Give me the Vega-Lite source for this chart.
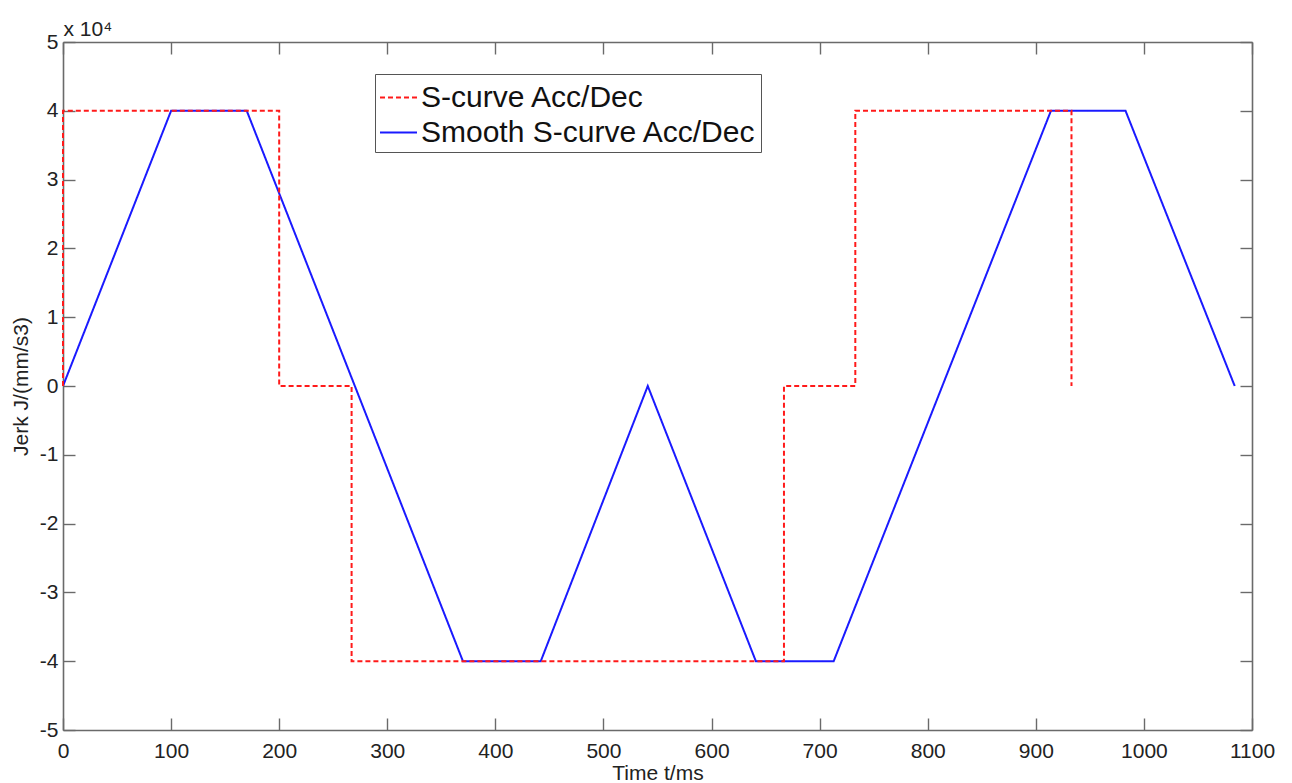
{
  "$schema": "https://vega.github.io/schema/vega-lite/v6.json",
  "width": 1189,
  "height": 688,
  "autosize": {"type": "none"},
  "padding": {"left": 63, "top": 42, "right": 40, "bottom": 53},
  "background": "white",
  "config": {
    "view": {"stroke": null},
    "axis": {
      "grid": false,
      "domainColor": "#6a6a6a",
      "domainWidth": 1.6,
      "tickColor": "#6a6a6a",
      "tickWidth": 1.4,
      "tickSize": -12,
      "labelFont": "Liberation Sans",
      "labelFontSize": 21,
      "labelColor": "#222222",
      "labelFlush": false,
      "labelOverlap": false,
      "titleFont": "Liberation Sans",
      "titleFontSize": 21,
      "titleFontWeight": "normal",
      "titleColor": "#222222"
    },
    "legend": {
      "orient": "none",
      "legendX": 312,
      "legendY": 32,
      "title": null,
      "padding": 4,
      "strokeColor": "#555555",
      "fillColor": "white",
      "symbolType": "stroke",
      "symbolSize": 1369,
      "symbolStrokeWidth": 2,
      "labelFont": "Liberation Sans",
      "labelFontSize": 30,
      "labelColor": "#111111",
      "labelOffset": 3,
      "rowPadding": 0,
      "labelLimit": 500
    }
  },
  "data": {
    "values": [
      {"series": "S-curve Acc/Dec", "i": 0, "t": 0, "jerk": 0},
      {"series": "S-curve Acc/Dec", "i": 1, "t": 0, "jerk": 40000},
      {"series": "S-curve Acc/Dec", "i": 2, "t": 200, "jerk": 40000},
      {"series": "S-curve Acc/Dec", "i": 3, "t": 200, "jerk": 0},
      {"series": "S-curve Acc/Dec", "i": 4, "t": 267, "jerk": 0},
      {"series": "S-curve Acc/Dec", "i": 5, "t": 267, "jerk": -40000},
      {"series": "S-curve Acc/Dec", "i": 6, "t": 667, "jerk": -40000},
      {"series": "S-curve Acc/Dec", "i": 7, "t": 667, "jerk": 0},
      {"series": "S-curve Acc/Dec", "i": 8, "t": 733, "jerk": 0},
      {"series": "S-curve Acc/Dec", "i": 9, "t": 733, "jerk": 40000},
      {"series": "S-curve Acc/Dec", "i": 10, "t": 933, "jerk": 40000},
      {"series": "S-curve Acc/Dec", "i": 11, "t": 933, "jerk": 0},
      {"series": "Smooth S-curve Acc/Dec", "i": 0, "t": 0, "jerk": 0},
      {"series": "Smooth S-curve Acc/Dec", "i": 1, "t": 100, "jerk": 40000},
      {"series": "Smooth S-curve Acc/Dec", "i": 2, "t": 170, "jerk": 40000},
      {"series": "Smooth S-curve Acc/Dec", "i": 3, "t": 370, "jerk": -40000},
      {"series": "Smooth S-curve Acc/Dec", "i": 4, "t": 442, "jerk": -40000},
      {"series": "Smooth S-curve Acc/Dec", "i": 5, "t": 541, "jerk": 0},
      {"series": "Smooth S-curve Acc/Dec", "i": 6, "t": 641, "jerk": -40000},
      {"series": "Smooth S-curve Acc/Dec", "i": 7, "t": 713, "jerk": -40000},
      {"series": "Smooth S-curve Acc/Dec", "i": 8, "t": 914, "jerk": 40000},
      {"series": "Smooth S-curve Acc/Dec", "i": 9, "t": 983, "jerk": 40000},
      {"series": "Smooth S-curve Acc/Dec", "i": 10, "t": 1084, "jerk": 0}
    ]
  },
  "resolve": {"axis": {"x": "independent", "y": "independent"}},
  "layer": [
    {
      "transform": [{"filter": "datum.series === 'Smooth S-curve Acc/Dec'"}],
      "mark": {"type": "line", "strokeWidth": 2},
      "encoding": {
        "x": {"field": "t", "type": "quantitative", "scale": {"domain": [0, 1100], "nice": false},
          "axis": {"orient": "bottom", "title": "Time t/ms", "values": [0,100,200,300,400,500,600,700,800,900,1000,1100], "labelExpr": "'' + datum.value", "labelPadding": 22, "titlePadding": 1}},
        "y": {"field": "jerk", "type": "quantitative", "scale": {"domain": [-50000, 50000], "nice": false, "zero": false},
          "axis": {"orient": "left", "title": "Jerk J/(mm/s3)", "values": [-50000,-40000,-30000,-20000,-10000,0,10000,20000,30000,40000,50000], "labelExpr": "'' + round(datum.value/10000)", "labelPadding": 17, "titlePadding": 8}},
        "color": {"field": "series", "type": "nominal", "scale": {"domain": ["S-curve Acc/Dec", "Smooth S-curve Acc/Dec"], "range": ["#ff1a1a", "#1a1aff"]}},
        "strokeDash": {"field": "series", "type": "nominal", "scale": {"domain": ["S-curve Acc/Dec", "Smooth S-curve Acc/Dec"], "range": [[5, 3], [1, 0]]}},
        "order": {"field": "i", "type": "quantitative"}
      }
    },
    {
      "transform": [{"filter": "datum.series === 'S-curve Acc/Dec'"}],
      "mark": {"type": "line", "strokeWidth": 2},
      "encoding": {
        "x": {"field": "t", "type": "quantitative", "axis": null},
        "y": {"field": "jerk", "type": "quantitative", "axis": null},
        "color": {"field": "series", "type": "nominal"},
        "strokeDash": {"field": "series", "type": "nominal"},
        "order": {"field": "i", "type": "quantitative"}
      }
    },
    {
      "mark": {"type": "line", "opacity": 0},
      "encoding": {
        "x": {"field": "t", "type": "quantitative",
          "axis": {"orient": "top", "labels": false, "values": [0,100,200,300,400,500,600,700,800,900,1000,1100],
            "title": "x 10⁴", "titleAnchor": "start", "titleAlign": "left", "titleAngle": 0, "titleX": 0, "titleY": -7, "titleBaseline": "alphabetic", "titleFontSize": 21}},
        "y": {"field": "jerk", "type": "quantitative",
          "axis": {"orient": "right", "labels": false, "title": null, "values": [-50000,-40000,-30000,-20000,-10000,0,10000,20000,30000,40000,50000]}},
        "detail": {"field": "series", "type": "nominal"},
        "order": {"field": "i", "type": "quantitative"}
      }
    }
  ]
}
